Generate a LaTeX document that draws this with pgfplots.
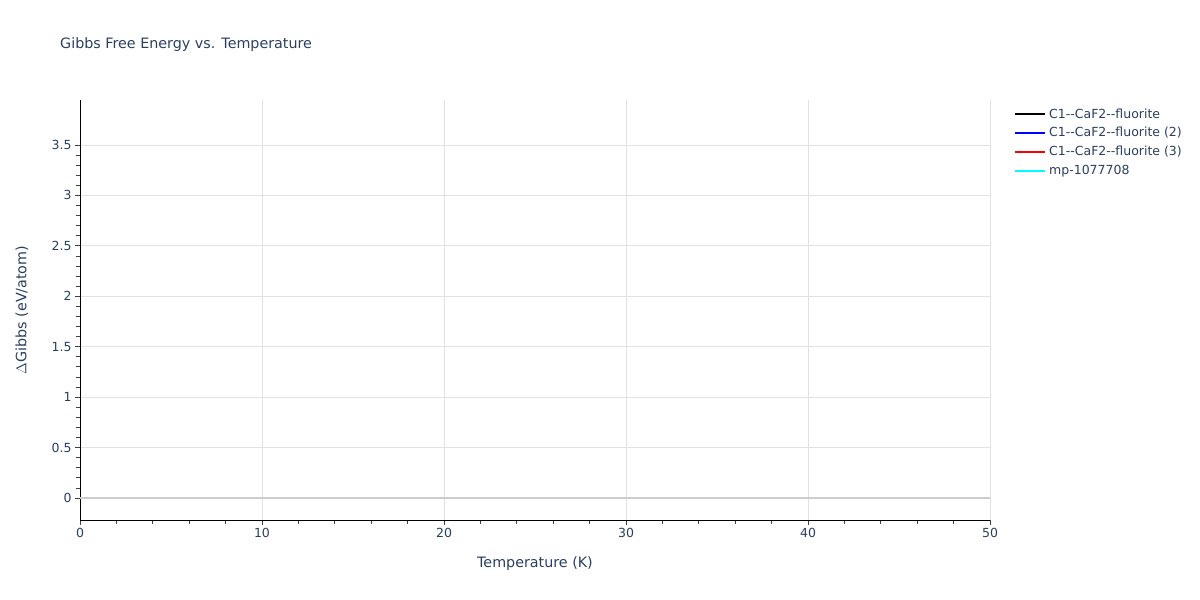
\documentclass[border=0pt]{standalone}
\usepackage{pgfplots}
\pgfplotsset{compat=1.18}
\usepackage{fontspec}
\setmainfont{DejaVu Sans}
\definecolor{plotlytext}{HTML}{2A3F5F}
\definecolor{gridgray}{HTML}{E2E2E2}
\definecolor{zerogray}{HTML}{CCCCCC}
\definecolor{tracecyan}{RGB}{0,255,255}
\definecolor{traceblue}{RGB}{0,0,255}
\definecolor{tracered}{RGB}{255,0,0}
\begin{document}
\begin{tikzpicture}
\path[use as bounding box] (0,0) rectangle (1200bp,600bp);
\tikzset{lbl/.style={font=\fontsize{14.3bp}{16bp}\selectfont, text=plotlytext, inner sep=0pt},
         leg/.style={font=\fontsize{12.5bp}{14bp}\selectfont, text=plotlytext, inner sep=0pt, anchor=west}}
\node[lbl, anchor=west] at (60bp,555bp) {Gibbs Free Energy vs. Temperature};
\node[lbl] at (535bp,36bp) {Temperature (K)};
\node[lbl, rotate=90] at (22bp,290bp) {$\Delta$Gibbs (eV/atom)};
\begin{axis}[
    at={(80bp,80bp)}, anchor=south west,
    scale only axis,
    width=910bp, height=420bp,
    xmin=0, xmax=50,
    ymin=-0.218, ymax=3.946,
    xtick={0,10,...,50},
    ytick={0,0.5,...,3.5},
    minor x tick num=4,
    minor y tick num=4,
    axis lines=left,
    axis line style={-, black, line width=1pt},
    tick align=outside,
    major tick length=5bp,
    minor tick length=4bp,
    every tick/.style={black!75, line width=0.8pt},
    xmajorgrids, ymajorgrids,
    major grid style={gridgray, line width=0.8pt},
    extra y ticks={0},
    extra y tick labels={},
    extra y tick style={grid=major, major grid style={zerogray, line width=1.6pt}, major tick length=0pt},
    ticklabel style={font=\fontsize{12.5bp}{14bp}\selectfont, text=plotlytext},
    /pgf/number format/assume math mode=true,
    yticklabel style={/pgf/number format/fixed},
    clip=true,
]
% the four traces carry no visible data inside the plotted range
\end{axis}
% legend
\foreach \c/\t [count=\i from 0] in {black/C1{-}{-}CaF2{-}{-}fluorite,
        traceblue/C1{-}{-}CaF2{-}{-}fluorite (2),
        tracered/C1{-}{-}CaF2{-}{-}fluorite (3),
        tracecyan/mp-1077708}{
    \draw[\c, line width=1.6pt] (1015bp,{486bp-19bp*\i}) -- (1045bp,{486bp-19bp*\i});
    \node[leg] at (1049bp,{486bp-19bp*\i}) {\t};
}
\end{tikzpicture}
\end{document}
